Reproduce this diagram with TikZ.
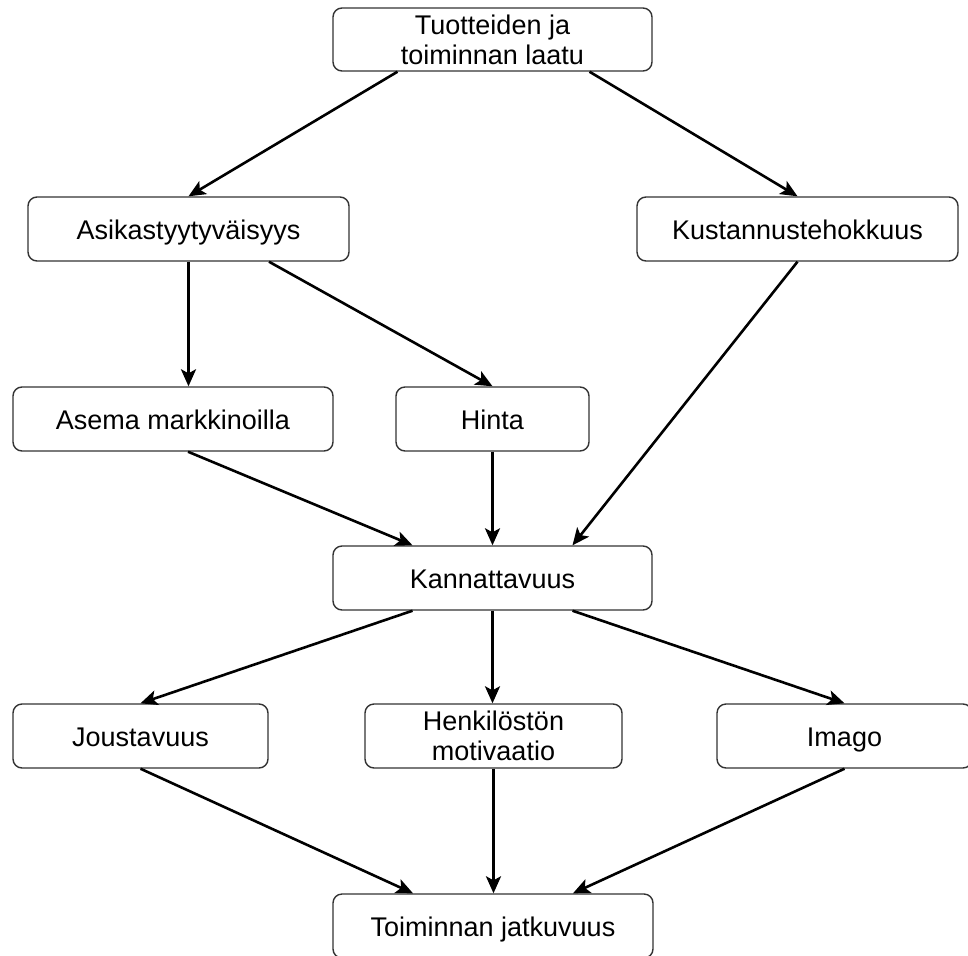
\documentclass[tikz,border=0pt]{standalone}
\usepackage{fontspec}
\setmainfont{Liberation Sans}
\usetikzlibrary{arrows.meta,calc}

\tikzset{
  box/.style={draw=black!80, line width=1.4pt, fill=white, rounded corners=9pt,
    inner sep=0pt, minimum height=64pt, align=center,
    font=\fontsize{27}{30}\selectfont},
  oneline/.style={text height=25pt, text depth=4pt},
  link/.style={line width=2.6pt, draw=black,
    -{Stealth[length=17pt,width=15pt,inset=4pt]}}
}

\begin{document}
\begin{tikzpicture}[x=1pt,y=-1pt]
\useasboundingbox (0,0) rectangle (968,955);

% boxes
\node[box, minimum width=319pt, minimum height=63pt] (laatu) at (492.5,39.5) {Tuotteiden ja\\toiminnan laatu};
\node[box, oneline, minimum width=321pt] (asik)  at (188.5,229) {Asikastyytyväisyys};
\node[box, oneline, minimum width=321pt] (kust)  at (797.5,229) {Kustannustehokkuus};
\node[box, oneline, minimum width=320pt] (asema) at (173,419)   {Asema markkinoilla};
\node[box, oneline, minimum width=193pt] (hinta) at (492.5,419) {Hinta};
\node[box, oneline, minimum width=319pt] (kann)  at (492.5,578) {Kannattavuus};
\node[box, oneline, minimum width=255pt] (jous)  at (140.5,736) {Joustavuus};
\node[box, minimum width=257pt] (henk)  at (493.5,736) {Henkilöstön\\motivaatio};
\node[box, oneline, minimum width=255pt] (imago) at (844.5,736) {Imago};
\node[box, oneline, minimum width=320pt] (toim)  at (493,926)   {Toiminnan jatkuvuus};

% connectors
\draw[link] ([xshift=-95pt]laatu.south) -- (asik.north);
\draw[link] ([xshift=97pt]laatu.south) -- (kust.north);

\draw[link] (asik.south) -- (asik.south |- asema.north);
\draw[link] ([xshift=80.5pt]asik.south) -- (hinta.north);
\draw[link] (kust.south) -- ([xshift=80pt]kann.north);

\draw[link] ([xshift=15pt]asema.south) -- ([xshift=-80pt]kann.north);
\draw[link] (hinta.south) -- (kann.north);

\draw[link] ([xshift=-80pt]kann.south) -- (jous.north);
\draw[link] (kann.south) -- (kann.south |- henk.north);
\draw[link] ([xshift=80pt]kann.south) -- (imago.north);

\draw[link] (jous.south) -- ([xshift=-80pt]toim.north);
\draw[link] (henk.south) -- (henk.south |- toim.north);
\draw[link] (imago.south) -- ([xshift=80pt]toim.north);
\end{tikzpicture}
\end{document}
